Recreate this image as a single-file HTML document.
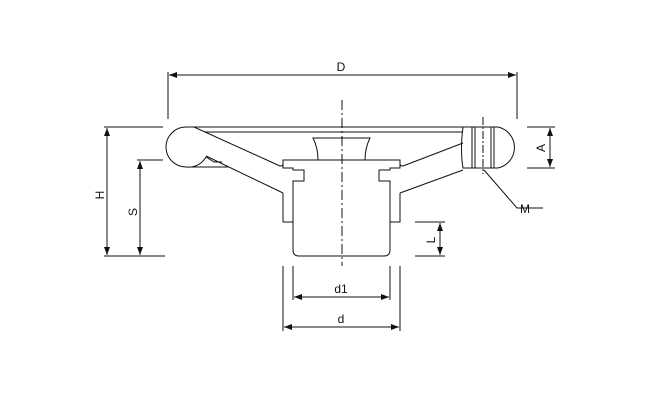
<!DOCTYPE html>
<html><head><meta charset="utf-8"><style>
html,body{margin:0;padding:0;background:#fff;}
svg{display:block;}
text{font-family:"Liberation Sans",sans-serif;font-size:12px;fill:#111;}
</style></head><body>
<svg width="650" height="400" viewBox="0 0 650 400" xmlns="http://www.w3.org/2000/svg">
<defs>
<marker id="ar" markerWidth="8" markerHeight="6" refX="8" refY="3" orient="auto-start-reverse" markerUnits="userSpaceOnUse">
<path d="M0,0 L8,3 L0,6 z" fill="#111"/></marker>
</defs>
<g stroke="#111" stroke-width="1" fill="none">
<line x1="168" y1="72" x2="168" y2="119"/>
<line x1="517" y1="72" x2="517" y2="119"/>
<line x1="169" y1="75" x2="516" y2="75" marker-start="url(#ar)" marker-end="url(#ar)"/>
<line x1="104" y1="127" x2="163" y2="127"/>
<line x1="104" y1="256" x2="165" y2="256"/>
<line x1="137" y1="160" x2="163" y2="160"/>
<line x1="107" y1="128" x2="107" y2="255" marker-start="url(#ar)" marker-end="url(#ar)"/>
<line x1="140" y1="161" x2="140" y2="255" marker-start="url(#ar)" marker-end="url(#ar)"/>
<line x1="193" y1="127" x2="463" y2="127"/>
<line x1="205" y1="132" x2="463" y2="132"/>
<path d="M194,127 L186,127 A20,20 0 0 0 186,167 A20,20 0 0 0 206,157"/>
<line x1="190" y1="167" x2="228" y2="167"/>
<path d="M206,157 L214,162 L222,162"/>
<line x1="194" y1="127" x2="280" y2="166"/>
<line x1="206" y1="156" x2="283" y2="193"/>
<path d="M280,166 Q283,166 283,164 L283,160 L400,160 L400,164 Q400,166 403,166"/>
<path d="M283,160 L283,168 L293,168 L293,170 L304,170 L304,181 L293,181 L293,222 L293,250 Q293,256 299,256 L384,256 Q390,256 390,250 L390,181 L379,181 L379,170 L390,170 L390,168 L400,168 L400,160"/>
<path d="M283,193 L283,222 L293,222"/>
<path d="M400,193 L400,222 L390,222"/>
<path d="M318,160 Q318,148 313,138 L370,138 Q365,148 365,160"/>
<line x1="403" y1="166" x2="463" y2="143"/>
<line x1="400" y1="193" x2="463" y2="170"/>
<path d="M463,127 Q460,150 463,168 L498,168 A21,21 0 0 0 498,127 Z"/>
<line x1="472" y1="127" x2="472" y2="168"/>
<line x1="475" y1="127" x2="475" y2="168"/>
<line x1="491" y1="127" x2="491" y2="168"/>
<line x1="494" y1="127" x2="494" y2="168"/>
<line x1="527" y1="127" x2="555" y2="127"/>
<line x1="527" y1="168" x2="555" y2="168"/>
<line x1="550" y1="128" x2="550" y2="167" marker-start="url(#ar)" marker-end="url(#ar)"/>
<path d="M484,170 L517,208 L543,208"/>
<line x1="415" y1="222" x2="445" y2="222"/>
<line x1="415" y1="256" x2="445" y2="256"/>
<line x1="440" y1="223" x2="440" y2="255" marker-start="url(#ar)" marker-end="url(#ar)"/>
<line x1="293" y1="266" x2="293" y2="300"/>
<line x1="390" y1="266" x2="390" y2="300"/>
<line x1="283" y1="266" x2="283" y2="331"/>
<line x1="400" y1="266" x2="400" y2="331"/>
<line x1="294" y1="297" x2="389" y2="297" marker-start="url(#ar)" marker-end="url(#ar)"/>
<line x1="284" y1="327" x2="399" y2="327" marker-start="url(#ar)" marker-end="url(#ar)"/>
<line x1="342" y1="100" x2="342" y2="266" stroke-dasharray="10,3,2,3"/>
<line x1="483" y1="117" x2="483" y2="174" stroke-dasharray="8,2,2,2"/>
</g>
<text x="341" y="71" text-anchor="middle">D</text>
<text x="341" y="293" text-anchor="middle">d1</text>
<text x="341" y="323" text-anchor="middle">d</text>
<text x="520" y="213">M</text>
<text transform="translate(104,195) rotate(-90)" text-anchor="middle">H</text>
<text transform="translate(137,212) rotate(-90)" text-anchor="middle">S</text>
<text transform="translate(545,148) rotate(-90)" text-anchor="middle">A</text>
<text transform="translate(435,240) rotate(-90)" text-anchor="middle">L</text>
</svg>
</body></html>
